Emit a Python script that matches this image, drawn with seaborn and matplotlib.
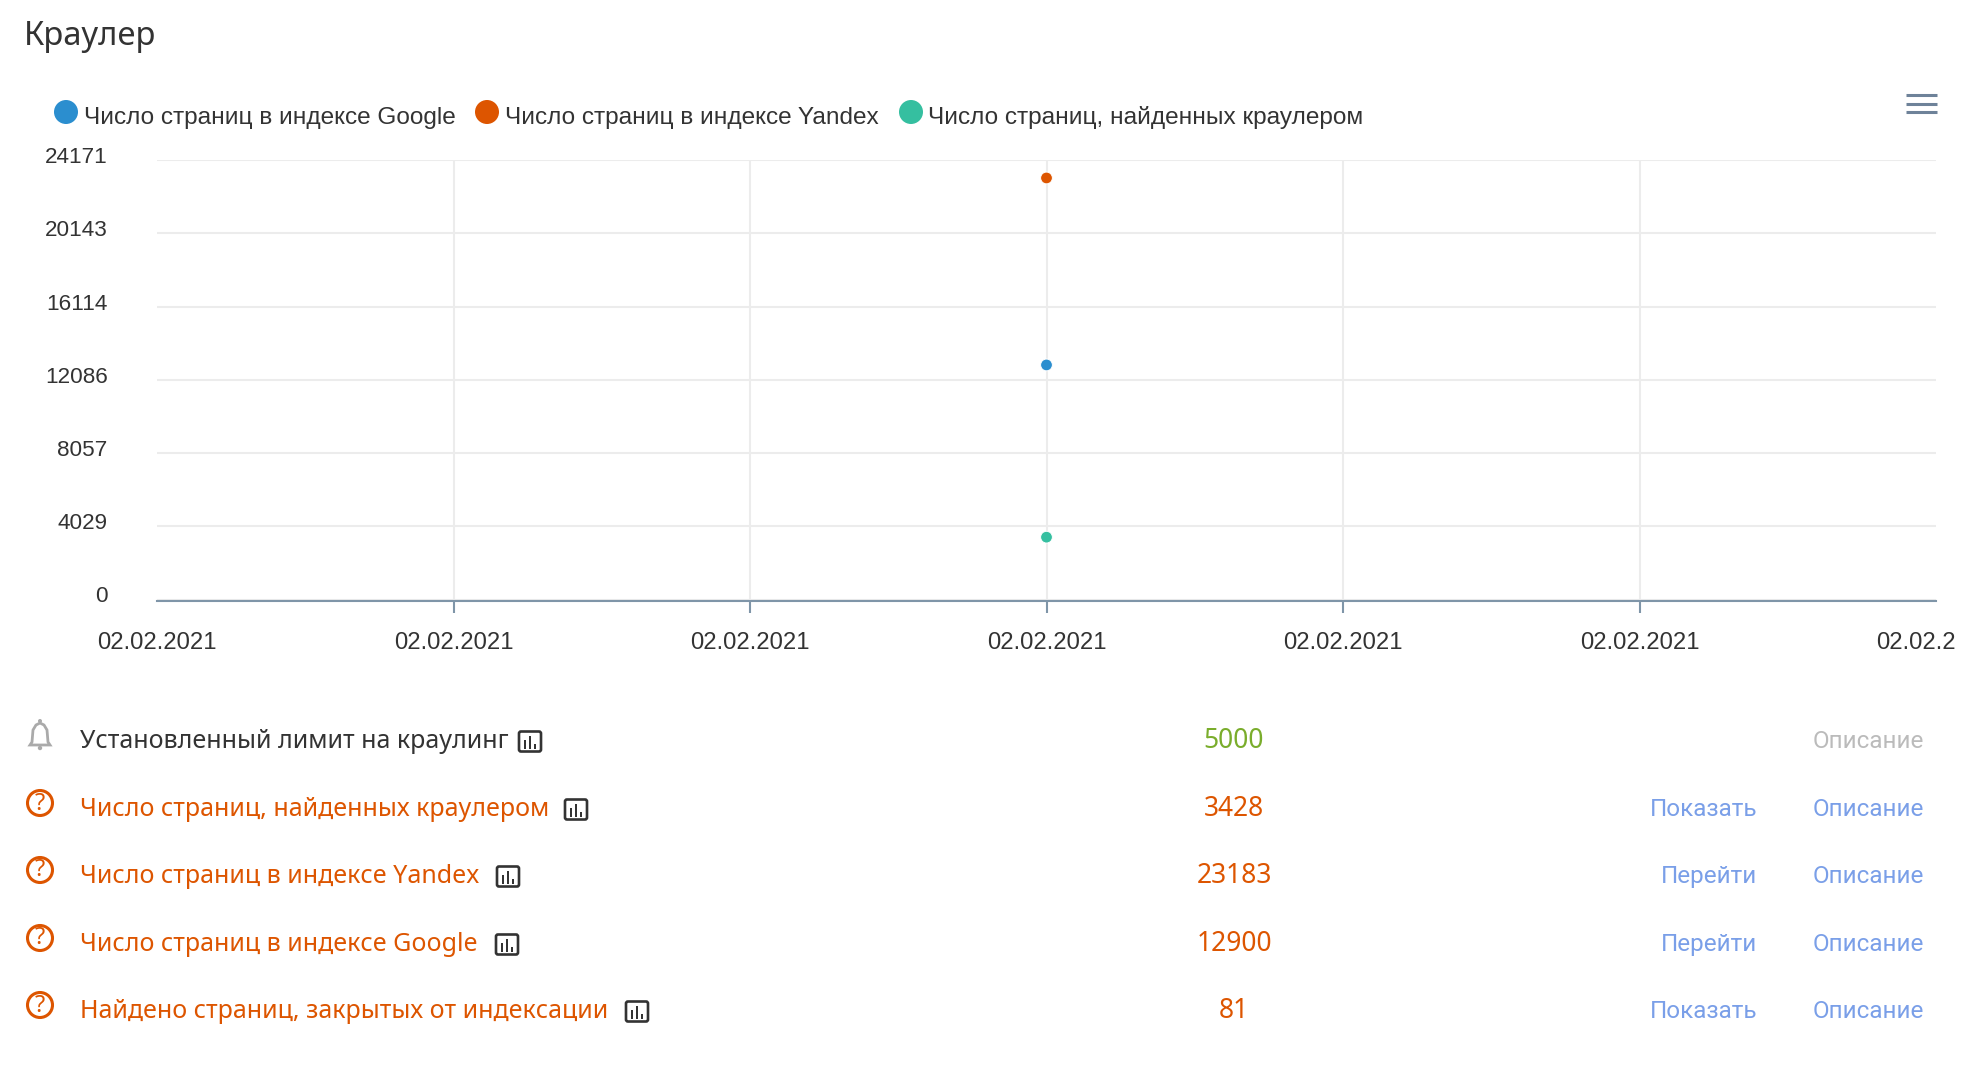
import matplotlib
matplotlib.use('Agg')
import matplotlib.pyplot as plt
import pandas as pd
import seaborn as sns
from matplotlib.patches import Circle, FancyBboxPatch, Polygon, Rectangle
from matplotlib.transforms import ScaledTranslation

W, H = 1978, 1074
DPI = 100

title = 'Краулер'
series_names = ['Число страниц в индексе Google', 'Число страниц в индексе Yandex', 'Число страниц, найденных краулером']
series_values = [12900, 23183, 3428]
point_x = [3, 3, 3]
series_colors = ['#2b8ecf', '#dd5500', '#35bfa0']

x_ticks = [0, 1, 2, 3, 4, 5, 6]
x_labels = ['02.02.2021', '02.02.2021', '02.02.2021', '02.02.2021', '02.02.2021', '02.02.2021', '02.02.2']
y_ticks = [0, 4029, 8057, 12086, 16114, 20143, 24171]

row_labels = ['Установленный лимит на краулинг', 'Число страниц, найденных краулером',
              'Число страниц в индексе Yandex', 'Число страниц в индексе Google',
              'Найдено страниц, закрытых от индексации']
row_values = ['5000', '3428', '23183', '12900', '81']
row_actions = ['', 'Показать', 'Перейти', 'Перейти', 'Показать']
row_desc = 'Описание'

ORANGE = '#dd5500'
DARK = '#333333'
LINK = '#7a9fe8'
GRID = '#ececec'
AXIS = '#7f95a8'

# pixel layout
row_base = [748, 816, 883, 951, 1018]
icon_x = [530, 576, 508, 507, 637]
legend_circle_x = [66, 487, 911]
legend_text_x = [84, 505, 928]

sns.set_theme(style='whitegrid')
plt.rcParams['font.family'] = ['Liberation Sans', 'DejaVu Sans']

fig = plt.figure(figsize=(W / DPI, H / DPI), dpi=DPI)
fig.patch.set_facecolor('white')

ax = fig.add_axes([157 / W, 1 - 599.5 / H, (1936 - 157) / W, (599.5 - 160) / H])
df = pd.DataFrame({'x': point_x, 'value': series_values, 'name': series_names})
sns.scatterplot(data=df, x='x', y='value', hue='name', palette=series_colors, s=72,
                edgecolor='white', linewidth=0.7, legend=False, clip_on=False, zorder=5, ax=ax)

ax.set_xlim(x_ticks[0], x_ticks[-1])
ax.set_ylim(y_ticks[0], y_ticks[-1])
ax.set_xticks(x_ticks)
ax.set_xticklabels(x_labels)
ax.set_yticks(y_ticks)
ax.set_xlabel('')
ax.set_ylabel('')
ax.grid(True, color=GRID, linewidth=1.5)
ax.set_axisbelow(True)
for side in ['top', 'left', 'right']:
    ax.spines[side].set_visible(False)
ax.spines['bottom'].set_color(AXIS)
ax.spines['bottom'].set_linewidth(1.5)
ax.spines['bottom'].set_position(('outward', 1.1))

ax.tick_params(axis='x', bottom=True, length=8.6, width=1.5, color=AXIS, pad=14,
               labelsize=17.2, labelcolor=DARK)
ax.tick_params(axis='y', left=False, pad=29.5, labelsize=16.2, labelcolor=DARK)

# no gridline or tick at the two ends of the x axis
for tick in [ax.xaxis.get_major_ticks()[0], ax.xaxis.get_major_ticks()[-1]]:
    tick.tick1line.set_visible(False)
    tick.gridline.set_visible(False)

# y labels sit a little above their gridlines
shift = ScaledTranslation(0, 5 / DPI, fig.dpi_scale_trans)
for label in ax.get_yticklabels():
    label.set_transform(label.get_transform() + shift)

# last date is cut off in the page, keep it starting where the full date would
last = ax.get_xticklabels()[-1]
last.set_horizontalalignment('left')
last.set_transform(last.get_transform() + ScaledTranslation(-60 / DPI, 0, fig.dpi_scale_trans))

# page level overlay in pixel coordinates
ov = fig.add_axes([0, 0, 1, 1], zorder=10)
ov.set_xlim(0, W)
ov.set_ylim(H, 0)
ov.axis('off')
ov.patch.set_alpha(0)

ROW_FONT = ['Noto Sans', 'DejaVu Sans']
LINK_FONT = ['Roboto', 'DejaVu Sans']

ov.text(24, 45, title, fontsize=23.6, color=DARK, family=ROW_FONT, va='baseline')

for name, color, cx, tx in zip(series_names, series_colors, legend_circle_x, legend_text_x):
    ov.add_patch(Circle((cx, 112), 12, color=color, lw=0))
    ov.text(tx, 124, name, fontsize=17.6, color=DARK, family=['Liberation Sans'], va='baseline')

for y in [95, 103.5, 112]:
    ov.plot([1906, 1937], [y, y], color='#6e8299', lw=2.2, solid_capstyle='butt')


def draw_bell(x, y):
    pts = [(x - 8, y + 8), (x - 7, y - 4), (x - 4, y - 9), (x, y - 11), (x + 4, y - 9), (x + 7, y - 4), (x + 8, y + 8),
           (x + 10, y + 11), (x - 10, y + 11)]
    ov.add_patch(Polygon(pts, closed=True, fill=False, edgecolor='#aaaaaa', lw=2))
    ov.add_patch(Circle((x, y - 13), 2, color='#aaaaaa', lw=0))
    ov.add_patch(Circle((x, y + 14), 2.2, color='#aaaaaa', lw=0))


def draw_question(x, y):
    ov.add_patch(Circle((x, y), 12.5, fill=False, edgecolor=ORANGE, lw=2.2))
    ov.text(x, y + 0.5, '?', fontsize=17, color=ORANGE, family=ROW_FONT, ha='center', va='center')


def draw_chart_icon(x, y):
    ov.add_patch(FancyBboxPatch((x - 11, y - 10), 22, 20, boxstyle='round,pad=0,rounding_size=2',
                                fill=False, edgecolor=DARK, lw=1.9))
    for dx, h in [(-5, 9), (0, 13), (5, 5)]:
        ov.add_patch(Rectangle((x + dx - 1.2, y + 7 - h), 2.4, h, color=DARK, lw=0))


for i, label in enumerate(row_labels):
    base = row_base[i]
    color = DARK if i == 0 else ORANGE
    if i == 0:
        draw_bell(40, base - 14)
    else:
        draw_question(40, base - 13)
    ov.text(79.5, base, label, fontsize=18, color=color, family=ROW_FONT, va='baseline')
    draw_chart_icon(icon_x[i], base - 6.5)

    value_color = '#7aad2c' if i == 0 else ORANGE
    ov.text(1234, base, row_values[i], fontsize=19, color=value_color, family=ROW_FONT, ha='center', va='baseline')
    if row_actions[i]:
        ov.text(1757, base, row_actions[i], fontsize=17.5, color=LINK, family=LINK_FONT, ha='right', va='baseline')
    desc_color = '#bbbbbb' if i == 0 else LINK
    ov.text(1924, base, row_desc, fontsize=17.5, color=desc_color, family=LINK_FONT, ha='right', va='baseline')

fig.savefig('out.png', dpi=DPI)
